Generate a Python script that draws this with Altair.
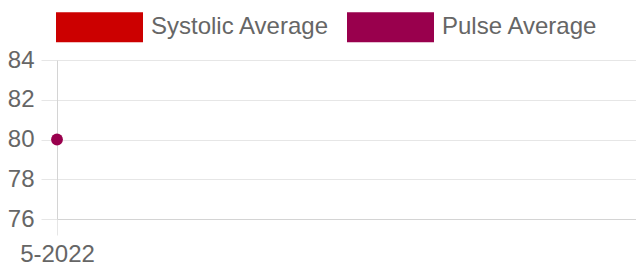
import altair as alt
import pandas as pd

months = ["5-2022"]
systolic_avg = [None]
pulse_avg = [80]
series_names = ["Systolic Average", "Pulse Average"]
series_colors = ["#cc0000", "#99004d"]
y_ticks = [76, 78, 80, 82, 84]

rows = []
for i, m in enumerate(months):
    rows.append({"month": m, "series": series_names[0], "value": systolic_avg[i]})
    rows.append({"month": m, "series": series_names[1], "value": pulse_avg[i]})
df = pd.DataFrame(rows)

FONT = "Liberation Sans"
GREY = "#666666"
GRID = "#e6e6e6"

rect_path = "M-1,-0.345L1,-0.345L1,0.345L-1,0.345Z"

chart = alt.Chart(df).mark_point(filled=True, opacity=1, size=140).encode(
    x=alt.X("month:N", sort=months,
            scale=alt.Scale(type="point", padding=0, align=0),
            axis=alt.Axis(title=None, labelAngle=0, tickSize=16, labelPadding=7,
                          labelFontSize=24, labelColor=GREY, labelFont=FONT,
                          grid=True, gridColor=GRID, tickColor=GRID,
                          domainColor="#d4d4d4")),
    y=alt.Y("value:Q", scale=alt.Scale(domain=[76, 84], nice=False, zero=False),
            axis=alt.Axis(title=None, values=y_ticks, format="d", tickSize=16,
                          labelPadding=7, labelFontSize=24, labelColor=GREY,
                          labelFont=FONT, grid=True, gridColor=GRID, tickColor=GRID,
                          domainColor="#d4d4d4")),
    color=alt.Color("series:N", sort=series_names,
                    scale=alt.Scale(domain=series_names, range=series_colors),
                    legend=alt.Legend(title=None, orient="none", direction="horizontal",
                                      legendX=-1, legendY=-76.5,
                                      symbolType=rect_path, symbolSize=7569,
                                      symbolStrokeWidth=0, symbolOpacity=1,
                                      labelFontSize=24, labelColor=GREY, labelFont=FONT,
                                      labelLimit=0, labelOffset=8, columnPadding=17)),
).properties(
    width=579,
    height=159,
    autosize=alt.AutoSizeParams(type="none"),
    padding={"left": 49, "top": 52, "right": 0, "bottom": 50},
).configure_view(stroke=None)

chart.save("out.html", embed_options={"renderer": "svg", "actions": False})
